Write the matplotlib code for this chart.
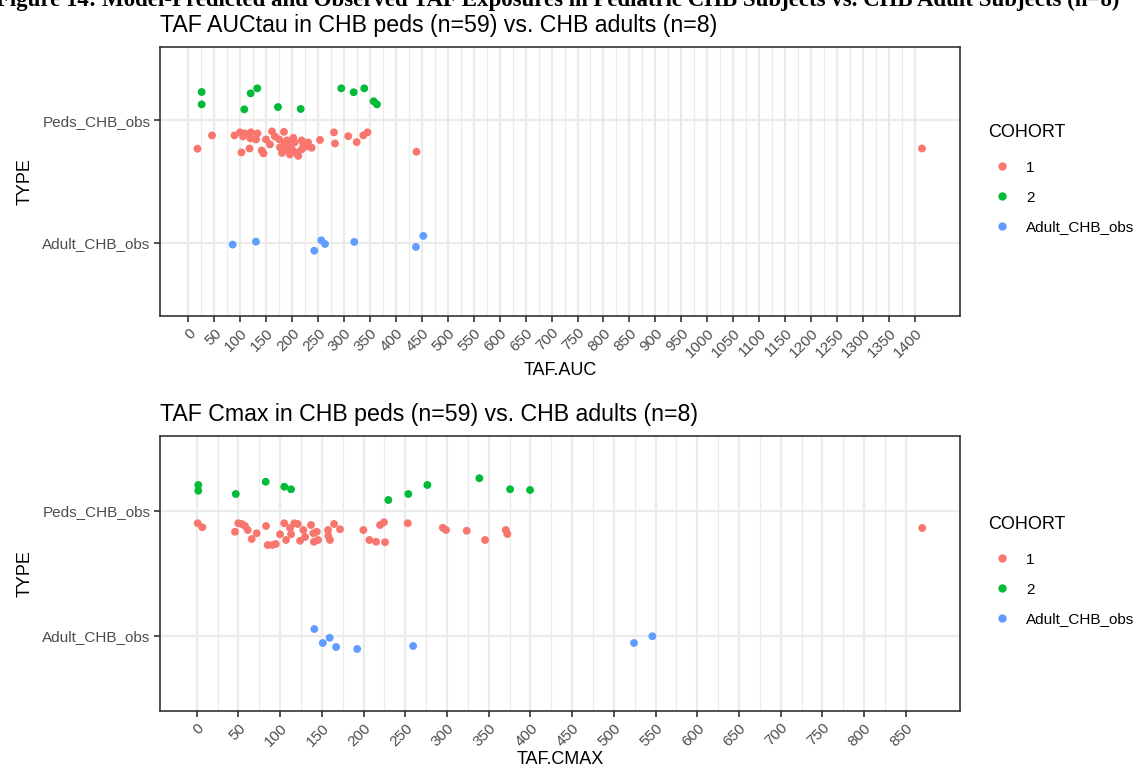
import matplotlib
matplotlib.use("Agg")
import matplotlib.pyplot as plt
from matplotlib.lines import Line2D
import numpy as np

plt.rcParams['font.family'] = ['Liberation Sans', 'DejaVu Sans']

# ---------------- data ----------------
categories = ["Adult_CHB_obs", "Peds_CHB_obs"]   # y positions 0, 1
cohort_labels = ["1", "2", "Adult_CHB_obs"]
cohort_colors = ["#F8766D", "#00BA38", "#619CFF"]

# Panel 1: TAF AUCtau
auc_c1 = [17.7, 45.7, 89.0, 99.6, 105.4, 102.5, 117.9, 120.8, 119.8, 133.3, 141.4, 144.9,
          149.7, 161.3, 175.3, 184.4, 176.7, 180.5, 190.2, 190.2, 195.9, 202.3, 195.9, 207.5,
          211.9, 218.5, 221.6, 218.5, 226.8, 237.8, 253.8, 280.7, 282.7, 308.3, 324.5, 337.2,
          345.3, 439.7, 1413.7, 109.2, 130.4, 166.8, 199.8, 205.0, 186.0, 157.4, 230.8]
auc_c1_jit = [-0.232, -0.123, -0.123, -0.098, -0.131, -0.262, -0.230, -0.098, -0.148, -0.107,
              -0.246, -0.270, -0.156, -0.090, -0.156, -0.094, -0.221, -0.266, -0.164, -0.238,
              -0.197, -0.143, -0.279, -0.262, -0.291, -0.164, -0.197, -0.238, -0.213, -0.224,
              -0.160, -0.098, -0.189, -0.129, -0.178, -0.123, -0.098, -0.257, -0.230, -0.107,
              -0.156, -0.131, -0.238, -0.180, -0.189, -0.197, -0.180]
auc_c2 = [25.8, 25.8, 107.9, 120.2, 132.9, 172.8, 216.6, 294.8, 318.7, 339.1, 357.2, 363.6]
auc_c2_jit = [0.232, 0.131, 0.090, 0.221, 0.262, 0.109, 0.093, 0.262, 0.230, 0.262, 0.156, 0.131]
auc_adult = [85.5, 130.4, 242.8, 256.3, 263.4, 319.8, 438.7, 452.8]
auc_adult_jit = [-0.016, 0.008, -0.066, 0.019, -0.011, 0.006, -0.035, 0.055]

# Panel 2: TAF Cmax
cmax_c1 = [1.2, 6.7, 45.9, 49.9, 54.0, 61.2, 65.9, 71.9, 83.1, 85.1, 90.6, 94.7, 99.9, 105.0,
           107.1, 113.1, 117.0, 121.1, 123.9, 127.8, 137.0, 139.8, 140.5, 143.9, 157.8, 159.8,
           164.6, 171.8, 199.8, 207.0, 215.0, 225.8, 219.8, 224.5, 253.0, 295.0, 298.9, 323.7,
           345.7, 370.5, 372.4, 869.7, 111.9, 129.9, 57.9, 145.4, 157.4]
cmax_c1_jit = [-0.098, -0.130, -0.166, -0.098, -0.104, -0.152, -0.224, -0.178, -0.120, -0.272,
               -0.272, -0.264, -0.186, -0.098, -0.232, -0.186, -0.098, -0.104, -0.238, -0.152,
               -0.112, -0.178, -0.246, -0.166, -0.200, -0.232, -0.104, -0.146, -0.152, -0.232,
               -0.246, -0.250, -0.112, -0.090, -0.098, -0.134, -0.152, -0.158, -0.232, -0.152,
               -0.184, -0.136, -0.136, -0.208, -0.120, -0.232, -0.152]
cmax_c2 = [1.9, 1.9, 46.8, 82.7, 105.0, 113.1, 229.7, 253.7, 276.5, 338.8, 375.7, 399.6]
cmax_c2_jit = [0.208, 0.162, 0.136, 0.234, 0.194, 0.174, 0.088, 0.136, 0.208, 0.262, 0.174, 0.168]
cmax_adult = [141.0, 151.1, 159.4, 167.1, 192.4, 259.4, 524.2, 546.2]
cmax_adult_jit = [0.056, -0.056, -0.014, -0.088, -0.104, -0.080, -0.056, -0.002]

panels = [
    dict(title="TAF AUCtau in CHB peds (n=59) vs. CHB adults (n=8)", xlabel="TAF.AUC",
         c1=(auc_c1, auc_c1_jit), c2=(auc_c2, auc_c2_jit), ad=(auc_adult, auc_adult_jit),
         ticks=np.arange(0, 1401, 50), xlim=(-54.5, 1487)),
    dict(title="TAF Cmax in CHB peds (n=59) vs. CHB adults (n=8)", xlabel="TAF.CMAX",
         c1=(cmax_c1, cmax_c1_jit), c2=(cmax_c2, cmax_c2_jit), ad=(cmax_adult, cmax_adult_jit),
         ticks=np.arange(0, 851, 50), xlim=(-44, 915)),
]

W, H = 1146, 769
fig = plt.figure(figsize=(W / 100, H / 100), dpi=100)

# axes boxes in pixels: (left, top, right, bottom)
boxes = [(160, 47, 960, 316), (160, 436, 960, 711)]

# Caption of the source document, cut off at the top edge as in the reference
fig.text(-4 / W, 1 - 6 / H, "Figure 14: Model-Predicted and Observed TAF Exposures in Pediatric CHB Subjects vs. CHB Adult Subjects (n=8)",
         family="Liberation Serif", weight="bold", fontsize=16.5, va="baseline", ha="left")

for p, (l, t, r, b) in zip(panels, boxes):
    ax = fig.add_axes([l / W, 1 - b / H, (r - l) / W, (b - t) / H])
    ax.set_xlim(*p["xlim"])
    ax.set_ylim(-0.6, 1.6)
    ticks = p["ticks"]
    ax.set_xticks(ticks)
    ax.set_xticks(ticks[:-1] + 25, minor=True)
    ax.set_xticklabels([str(v) for v in ticks], rotation=45, ha="right",
                       rotation_mode="anchor", fontsize=11, color="#4D4D4D")
    ax.set_yticks([0, 1])
    ax.set_yticklabels(categories, fontsize=11, color="#4D4D4D")
    ax.grid(True, which="major", color="#EBEBEB", lw=1.6, zorder=0)
    ax.grid(True, which="minor", axis="x", color="#EBEBEB", lw=0.9, zorder=0)
    ax.set_axisbelow(True)
    ax.tick_params(which="major", length=4, width=1.2, color="#333333", pad=3)
    ax.tick_params(which="minor", length=0)
    for s in ax.spines.values():
        s.set_color("#333333")
        s.set_linewidth(1.2)

    for (vals, jit), y0, col in [(p["c1"], 1, cohort_colors[0]), (p["c2"], 1, cohort_colors[1]),
                                 (p["ad"], 0, cohort_colors[2])]:
        ax.scatter(vals, y0 + np.array(jit), s=32, color=col, edgecolors="none", zorder=3)

    ax.set_title(p["title"], loc="left", fontsize=16.7, pad=11)
    ax.set_xlabel(p["xlabel"], fontsize=13, labelpad=2)
    ax.set_ylabel("TYPE", fontsize=13, labelpad=6)

    center = (t + b) / 2
    fig.text(988 / W, 1 - (center - 49) / H, "COHORT", fontsize=13, va="center", ha="left")
    handles = [Line2D([], [], marker="o", linestyle="none", markersize=6,
                      markerfacecolor=c, markeredgecolor="none") for c in cohort_colors]
    ax.legend(handles, cohort_labels, loc="center left",
              bbox_to_anchor=(979 / W, 1 - (center + 16) / H), bbox_transform=fig.transFigure,
              frameon=False, fontsize=11, handletextpad=0.6, labelspacing=1.03, borderpad=0)

fig.savefig("out.png", dpi=100)
